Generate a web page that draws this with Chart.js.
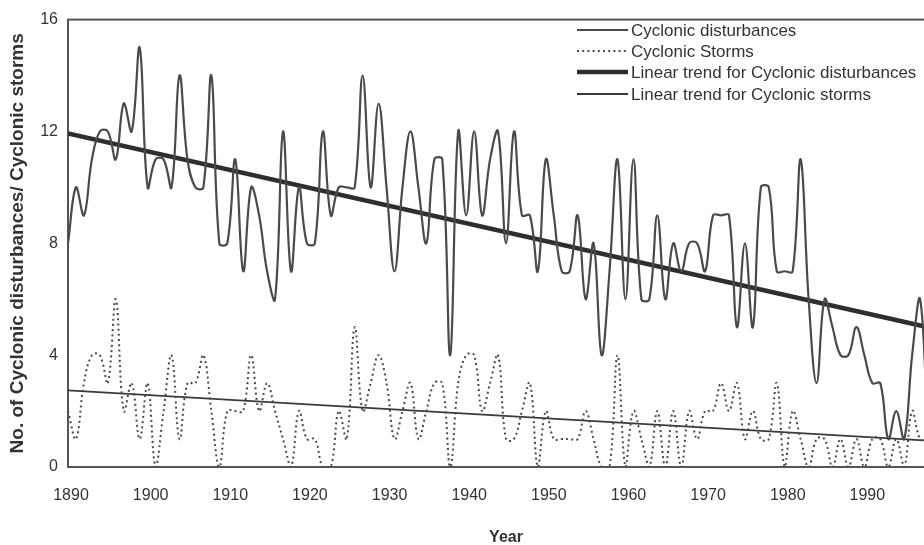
<!DOCTYPE html>
<html>
<head>
<meta charset="utf-8">
<script src="https://cdn.jsdelivr.net/npm/chart.js@4.4.1/dist/chart.umd.min.js"></script>
<style>
    html, body { margin: 0; padding: 0; background: #fff; overflow: hidden; width: 924px; height: 545px; }
    #wrap { width: 944px; height: 545px; }
</style>
</head>
<body>
<div id="wrap"><canvas id="chart" width="944" height="545"></canvas></div>
<script>
// Annual counts, 1890 onwards
const FIRST_YEAR = 1890;

const disturbances = [
    8, 10, 9, 11, 12, 12, 11, 13, 12, 15,    // 1890s
    10, 11, 11, 10, 14, 11, 10, 10, 14, 8,   // 1900s
    8, 11, 7, 10, 9, 7, 6, 12, 7, 10,        // 1910s
    8, 8, 12, 9, 10, 10, 10, 14, 10, 13,     // 1920s
    10, 7, 10, 12, 10, 8, 11, 11, 4, 12,     // 1930s
    9, 12, 9, 11, 12, 8, 12, 9, 9, 7,        // 1940s
    11, 9, 7, 7, 9, 6, 8, 4, 7, 11,          // 1950s
    6, 11, 6, 6, 9, 6, 8, 7, 8, 8,           // 1960s
    7, 9, 9, 9, 5, 8, 5, 10, 10, 7,          // 1970s
    7, 7, 11, 6, 3, 6, 5, 4, 4, 5,           // 1980s
    4, 3, 3, 1, 2, 1, 4, 6, 1                // 1990-1998
];

const storms = [
    2, 1, 3, 4, 4, 3, 6, 2, 3, 1,
    3, 0, 2, 4, 1, 3, 3, 4, 2, 0,
    2, 2, 2, 4, 2, 3, 2, 1, 0, 2,
    1, 1, 0, 0, 2, 1, 5, 2, 3, 4,
    3, 1, 2, 3, 1, 2, 3, 3, 0, 3,
    4, 4, 2, 3, 4, 1, 1, 2, 3, 0,
    2, 1, 1, 1, 1, 2, 1, 0, 0, 4,
    0, 2, 1, 0, 2, 0, 2, 0, 2, 1,
    2, 2, 3, 2, 3, 1, 2, 1, 1, 3,
    0, 2, 1, 0, 1, 1, 0, 1, 0, 1,
    0, 1, 1, 0, 1, 0, 2, 1, 1
];

// Linear trend end points (first and last year)
const trendYears = [1890, 1998];
const trendDisturbances = [11.93, 5.0];
const trendStorms = [2.74, 0.94];

const xTicks = [1890, 1900, 1910, 1920, 1930, 1940, 1950, 1960, 1970, 1980, 1990];
const yTicks = [0, 4, 8, 12, 16];

const years = disturbances.map((_, i) => FIRST_YEAR + i);
const toPoints = (xs, ys) => xs.map((x, i) => ({ x: x, y: ys[i] }));

const FONT = "'Liberation Sans', Arial, sans-serif";
const INK = '#333';

const datasets = [
    {
        label: 'Cyclonic disturbances',
        data: toPoints(years, disturbances),
        borderColor: '#4a4a4a',
        borderWidth: 2.2,
        tension: 0.4
    },
    {
        label: 'Cyclonic Storms',
        data: toPoints(years, storms),
        borderColor: '#4a4a4a',
        borderWidth: 2,
        borderDash: [2, 3.2],
        tension: 0.4
    },
    {
        label: 'Linear trend for Cyclonic disturbances',
        data: toPoints(trendYears, trendDisturbances),
        borderColor: '#2e2e2e',
        borderWidth: 4.5
    },
    {
        label: 'Linear trend for Cyclonic storms',
        data: toPoints(trendYears, trendStorms),
        borderColor: '#3a3a3a',
        borderWidth: 1.8
    }
];

// Frame round the plot area (right side falls outside the visible page)
const framePlugin = {
    id: 'frame',
    beforeDatasetsDraw(chart) {
        const a = chart.chartArea;
        const ctx = chart.ctx;
        ctx.save();
        ctx.strokeStyle = '#555';
        ctx.lineWidth = 2;
        ctx.strokeRect(a.left, a.top, a.right - a.left, a.bottom - a.top);
        ctx.restore();
    }
};

// Legend drawn inside the plot, top right
const legendPlugin = {
    id: 'insideLegend',
    afterDraw(chart) {
        const ctx = chart.ctx;
        const rows = [30, 51, 72, 94];
        ctx.save();
        ctx.font = '17px ' + FONT;
        ctx.textBaseline = 'middle';
        ctx.fillStyle = INK;
        chart.data.datasets.forEach(function(ds, i) {
            const y = rows[i];
            ctx.strokeStyle = ds.borderColor;
            ctx.lineWidth = ds.borderWidth;
            ctx.setLineDash(ds.borderDash || []);
            ctx.beginPath();
            ctx.moveTo(577, y);
            ctx.lineTo(628, y);
            ctx.stroke();
            ctx.setLineDash([]);
            ctx.fillText(ds.label, 631, y + 1);
        });
        ctx.restore();
    }
};

new Chart(document.getElementById('chart'), {
    type: 'line',
    data: { datasets: datasets },
    options: {
        responsive: false,
        animation: false,
        devicePixelRatio: 1,
        layout: { padding: { top: 16, right: 0, bottom: 0, left: 0 } },
        elements: { point: { radius: 0 } },
        plugins: {
            legend: { display: false },
            tooltip: { enabled: false }
        },
        scales: {
            x: {
                type: 'linear',
                min: 1890,
                max: 2000,
                afterBuildTicks: function(s) { s.ticks = xTicks.map(v => ({ value: v })); },
                afterFit: function(s) { s.height = 78; },
                grid: { display: false, drawTicks: false },
                border: { display: false },
                ticks: {
                    color: INK,
                    font: { family: FONT, size: 16 },
                    padding: 19,
                    labelOffset: 3,
                    maxRotation: 0,
                    callback: v => String(v)
                },
                title: {
                    display: true,
                    text: 'Year',
                    color: INK,
                    font: { family: FONT, size: 16, weight: 'bold', lineHeight: 0.9 },
                    padding: { top: 0, bottom: 0 }
                }
            },
            y: {
                min: 0,
                max: 16,
                afterBuildTicks: function(s) { s.ticks = yTicks.map(v => ({ value: v })); },
                afterFit: function(s) { s.width = 68; },
                grid: { display: false, drawTicks: false },
                border: { display: false },
                ticks: {
                    color: INK,
                    font: { family: FONT, size: 16 },
                    padding: 10
                },
                title: {
                    display: true,
                    text: 'No. of Cyclonic disturbances/ Cyclonic storms',
                    color: INK,
                    font: { family: FONT, size: 19, weight: 'bold', lineHeight: 1.2 },
                    padding: { top: 6, bottom: 0 }
                }
            }
        }
    },
    plugins: [framePlugin, legendPlugin]
});
</script>
</body>
</html>
